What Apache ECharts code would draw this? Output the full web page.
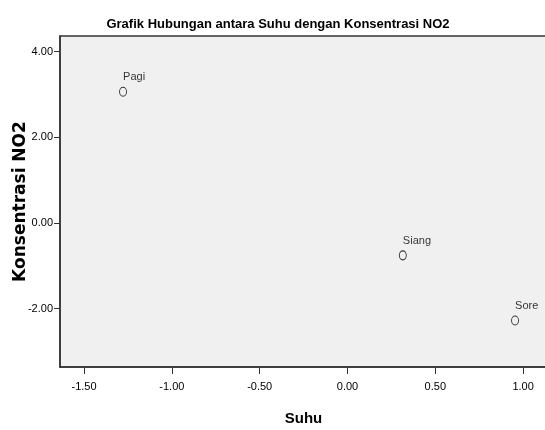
<!DOCTYPE html>
<html>
<head>
<meta charset="utf-8">
<script src="https://cdn.jsdelivr.net/npm/echarts@6/dist/echarts.min.js"></script>
<style>
  html, body { margin: 0; padding: 0; background: #fff; }
  #chart { width: 545px; height: 430px; }
</style>
</head>
<body>
<div id="chart"></div>
<script>
// data
const names = ["Pagi", "Siang", "Sore"];
const suhu = [-1.278, 0.315, 0.954];
const no2 = [3.065, -0.757, -2.28];
const xTicks = [-1.5, -1.0, -0.5, 0.0, 0.5, 1.0];
const yTicks = [-2.0, 0.0, 2.0, 4.0];

const font = "'Liberation Sans', Arial, sans-serif";

const chart = echarts.init(document.getElementById("chart"));
const points = names.map((n, i) => ({ name: n, value: [suhu[i], no2[i]] }));

const option = {
  animation: false,
  title: {
    text: "Grafik Hubungan antara Suhu dengan Konsentrasi NO2",
    left: 273,
    textAlign: "center",
    top: 13,
    textStyle: { fontFamily: font, fontSize: 13, fontWeight: "bold", color: "#000" }
  },
  grid: {
    left: 60,
    top: 36,
    right: -2,
    bottom: 63,
    outerBoundsMode: "none",
    containLabel: false,
    show: true,
    backgroundColor: "#f0f0f0",
    borderColor: "#333",
    borderWidth: 1.5
  },
  xAxis: {
    type: "value",
    min: -1.637,
    max: 1.136,
    name: "Suhu",
    nameLocation: "middle",
    nameGap: 44,
    nameMoveOverlap: false,
    nameTextStyle: { fontFamily: font, fontSize: 15, fontWeight: "bold", color: "#000" },
    axisLine: { show: true, onZero: false, lineStyle: { color: "#333", width: 1.5 } },
    axisTick: { show: true, length: 7, customValues: xTicks, lineStyle: { color: "#333" } },
    axisLabel: {
      customValues: xTicks,
      margin: 14,
      fontFamily: font,
      fontSize: 11,
      color: "#000",
      formatter: (v) => v.toFixed(2)
    },
    splitLine: { show: false }
  },
  yAxis: {
    type: "value",
    min: -3.366,
    max: 4.367,
    name: "Konsentrasi NO2",
    nameLocation: "middle",
    nameGap: 31,
    nameMoveOverlap: false,
    nameTextStyle: { fontFamily: "'DejaVu Sans', sans-serif", fontSize: 17, fontWeight: "bold", color: "#000" },
    axisLine: { show: true, onZero: false, lineStyle: { color: "#333", width: 1.5 } },
    axisTick: { show: true, length: 6, customValues: yTicks, lineStyle: { color: "#333" } },
    axisLabel: {
      customValues: yTicks,
      margin: 7,
      fontFamily: font,
      fontSize: 11,
      color: "#000",
      formatter: (v) => v.toFixed(2)
    },
    splitLine: { show: false }
  },
  series: [
    {
      type: "scatter",
      data: points,
      symbol: "circle",
      symbolSize: [7, 9],
      itemStyle: { color: "rgba(0,0,0,0)", borderColor: "#000", borderWidth: 1 },
      label: {
        show: true,
        formatter: "{b}",
        position: [4, -15],
        align: "left",
        verticalAlign: "top",
        fontFamily: font,
        fontSize: 11,
        color: "#000"
      }
    }
  ]
};

chart.setOption(option);
</script>
</body>
</html>
